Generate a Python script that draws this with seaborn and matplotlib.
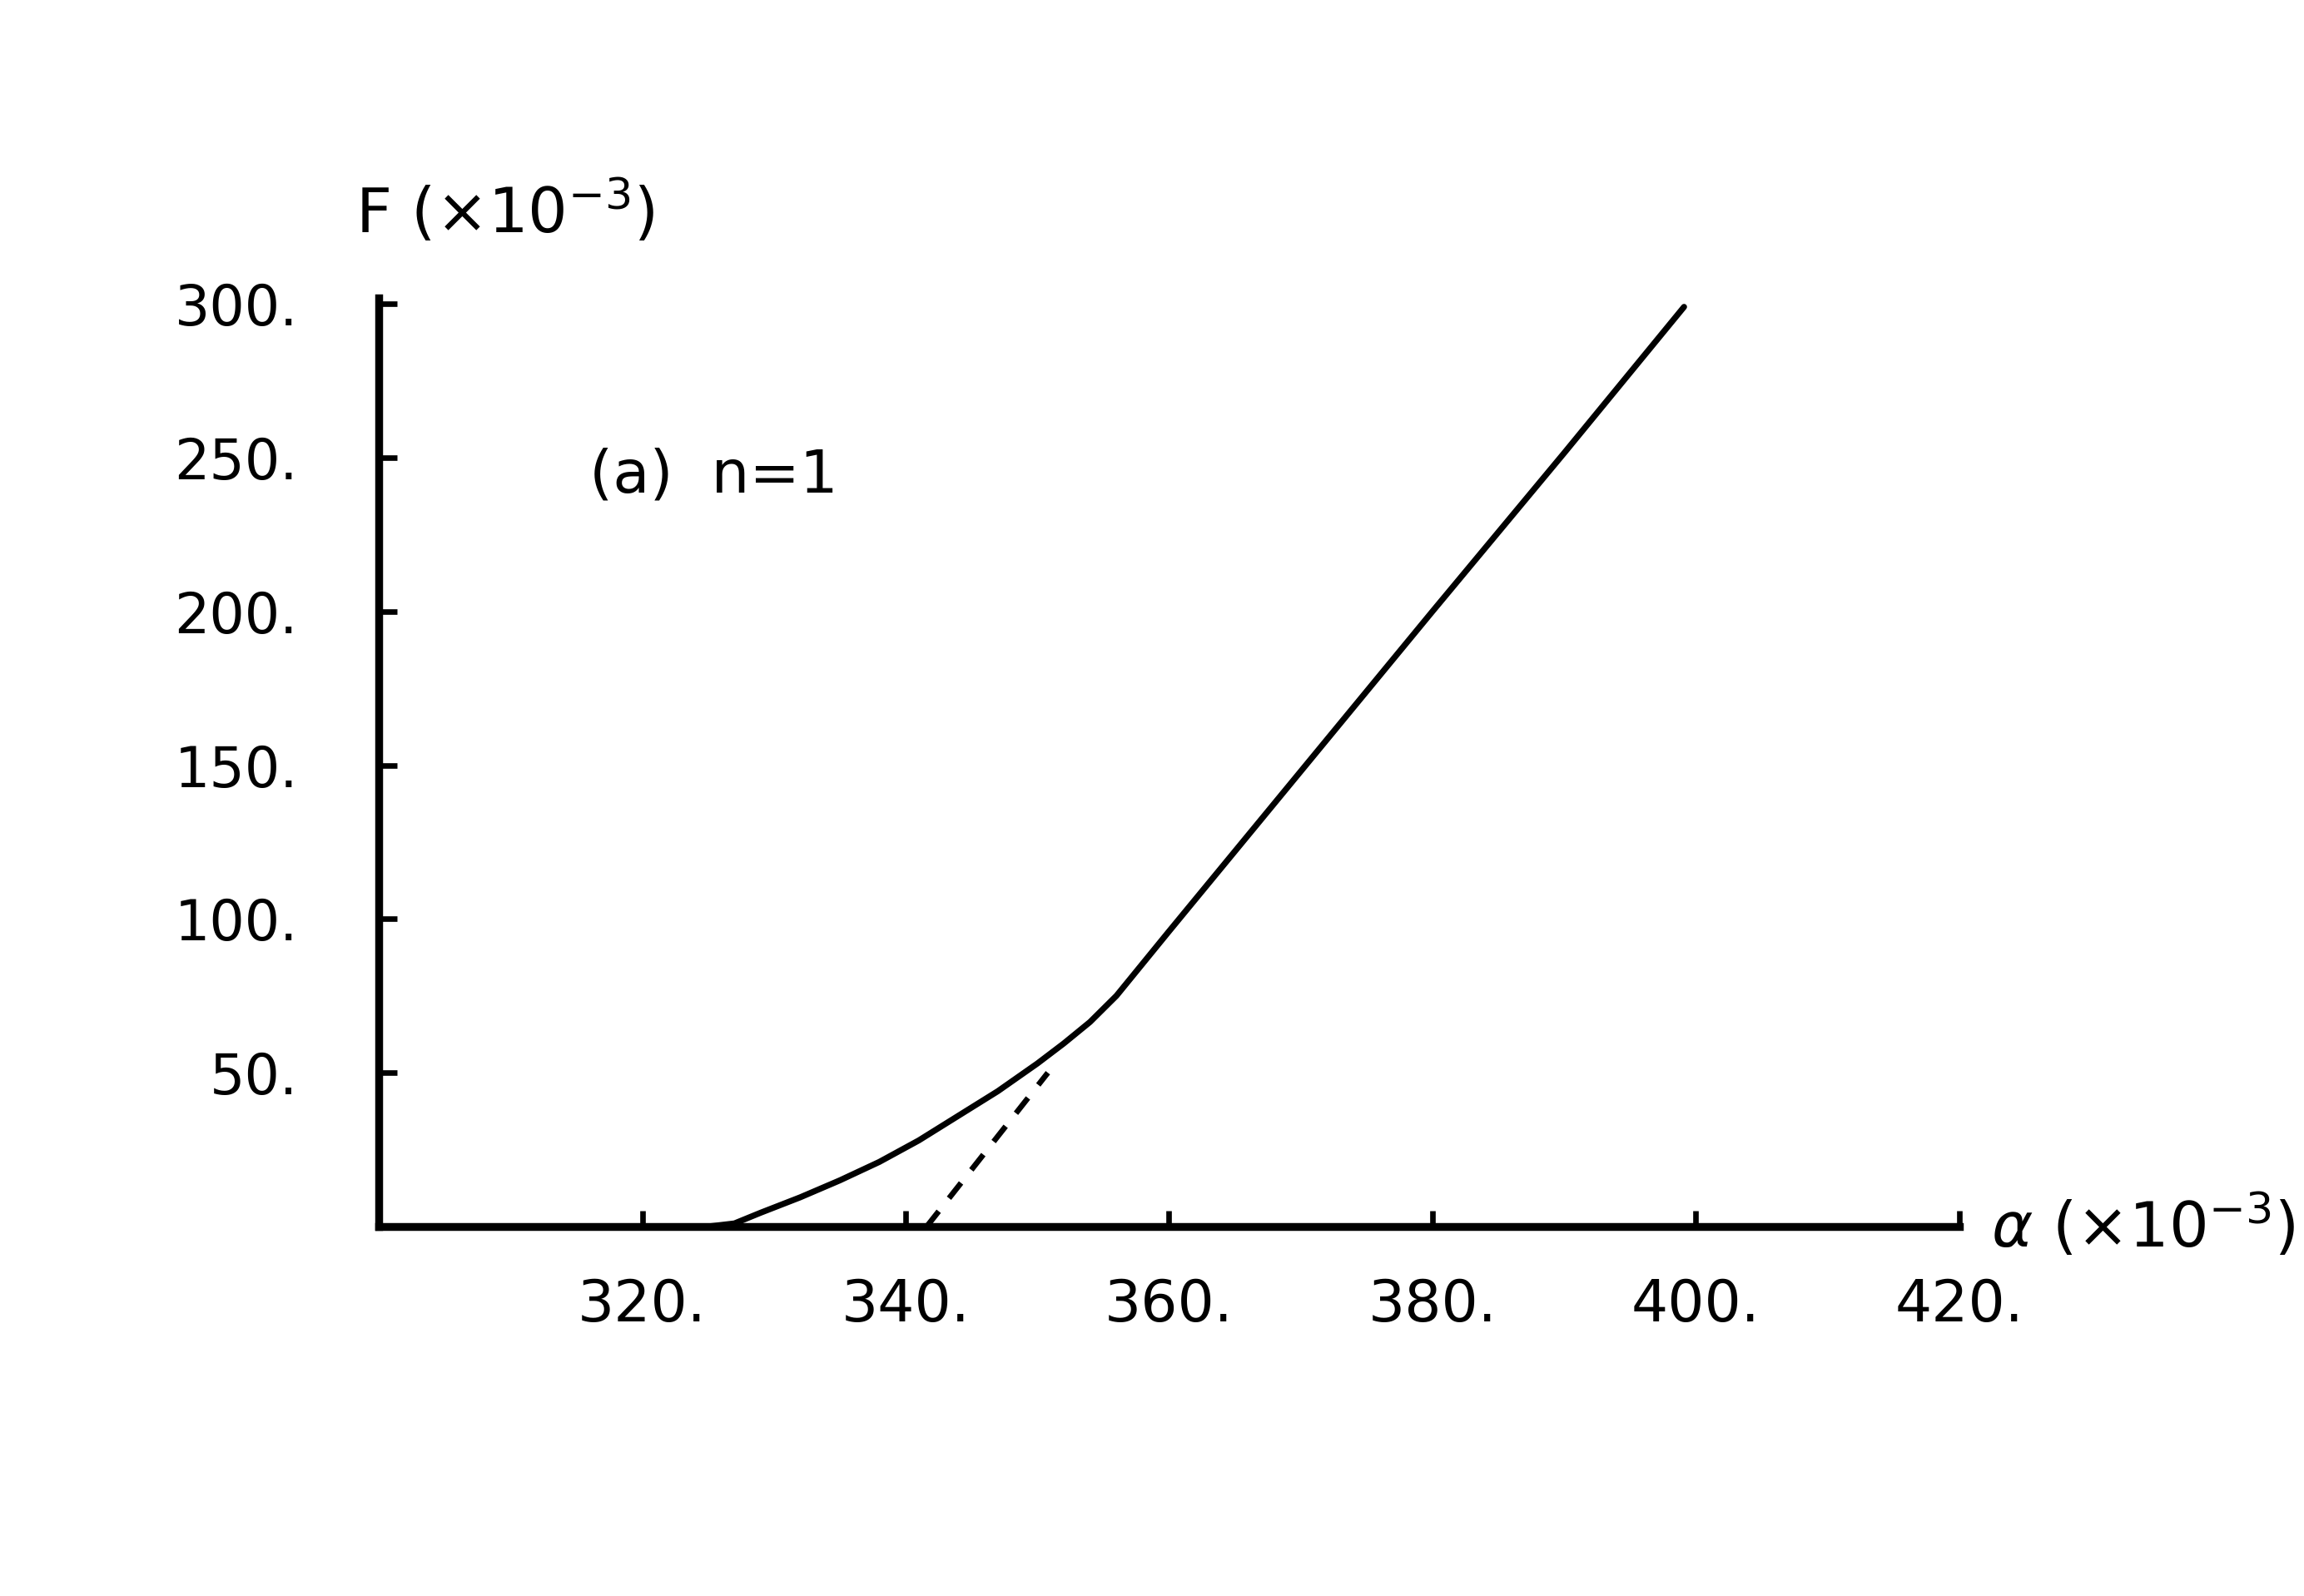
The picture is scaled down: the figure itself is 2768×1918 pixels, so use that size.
import matplotlib
matplotlib.use("Agg")
import matplotlib.pyplot as plt
import seaborn as sns
import pandas as pd

# ---- data ----
alpha_solid = [300, 325, 327, 329, 332, 335, 338, 341, 344, 347, 350, 352, 354, 356, 358, 360, 370, 380, 390, 399.1]
F_solid     = [0,   0,   1,   4.5, 9.5, 15,  21,  28,  36,  44,  53,  59.5, 66.5, 75, 85.5, 96, 148, 200, 251.5, 299]

alpha_dash = [341.6, 350.8]
F_dash     = [0, 50]

x_ticks = [320, 340, 360, 380, 400, 420]
y_ticks = [50, 100, 150, 200, 250, 300]
x_tick_labels = ["320.", "340.", "360.", "380.", "400.", "420."]
y_tick_labels = ["50.", "100.", "150.", "200.", "250.", "300."]

sns.set_theme(style="ticks")
plt.rcParams['font.family'] = ['DejaVu Sans']

fig = plt.figure(figsize=(13.84, 9.59), dpi=200)
ax = fig.add_axes([0.1644, 0.2315, 0.686, 0.582])

df_s = pd.DataFrame({"alpha": alpha_solid, "F": F_solid})
df_d = pd.DataFrame({"alpha": alpha_dash, "F": F_dash})
sns.lineplot(data=df_s, x="alpha", y="F", ax=ax, color="black", linewidth=2.6, sort=False)
sns.lineplot(data=df_d, x="alpha", y="F", ax=ax, color="black", linewidth=2.4,
             linestyle=(0, (3.5, 3)), sort=False)

ax.set_xlim(300, 420)
ax.set_ylim(0, 302)
ax.set_xlabel("")
ax.set_ylabel("")

for s in ["top", "right"]:
    ax.spines[s].set_visible(False)
for s in ["left", "bottom"]:
    ax.spines[s].set_linewidth(3.4)
    ax.spines[s].set_color("black")

ax.set_xticks(x_ticks)
ax.set_xticklabels(x_tick_labels)
ax.set_yticks(y_ticks)
ax.set_yticklabels(y_tick_labels)
ax.tick_params(axis="x", direction="in", length=7, width=2.4, pad=22, labelsize=25, colors="black")
ax.tick_params(axis="y", direction="in", length=8, width=2.4, pad=35, labelsize=24, colors="black")

ax.text(-0.015, 1.055, r"F ($\times$10$^{-3}$)", transform=ax.transAxes, fontsize=27,
        ha="left", va="bottom", color="black")
ax.text(1.02, 0.0, r"$\alpha$ ($\times$10$^{-3}$)", transform=ax.transAxes, fontsize=27,
        ha="left", va="center", color="black")
ax.text(316, 244, "(a)  n=1", fontsize=26, ha="left", va="center", color="black")

fig.savefig("out.png", dpi=200, facecolor="white")
